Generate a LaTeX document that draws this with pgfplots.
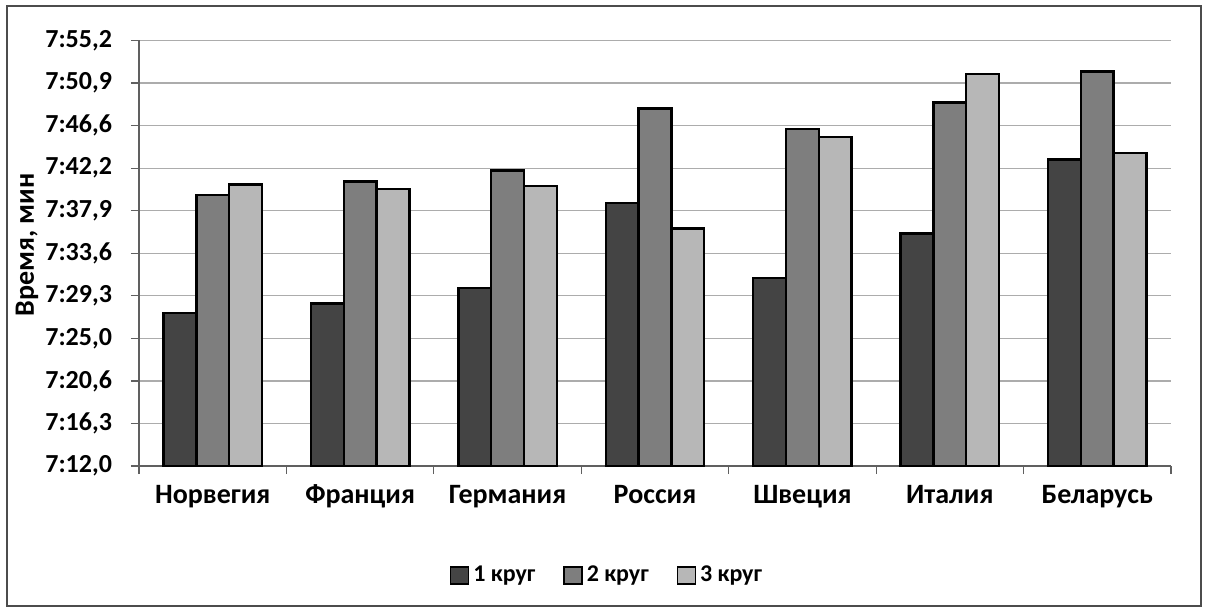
\documentclass[border=0pt]{standalone}
\usepackage{fontspec}
\setmainfont{Carlito}
\usepackage{pgfplots}
\pgfplotsset{compat=1.18}
\definecolor{c1}{HTML}{444444}
\definecolor{c2}{HTML}{7E7E7E}
\definecolor{c3}{HTML}{B7B7B7}
\newcommand{\lbl}{\fontsize{12}{14.4}\selectfont\bfseries}
\newcommand{\ylbl}{\fontsize{13}{15.6}\selectfont\bfseries}
\newcommand{\xlbl}{\fontsize{14}{16.8}\selectfont\bfseries}
\pgfplotstableread{
x r1 r2 r3
0 27.55 39.5 40.6
1 28.5 40.9 40.1
2 30.1 42.0 40.4
3 38.7 48.3 36.1
4 31.1 46.2 45.4
5 35.6 48.9 51.8
6 43.1 52.05 43.8
}\datatab
\begin{document}
\begin{tikzpicture}[x=1pt,y=1pt]
\path[use as bounding box] (0,0) rectangle (602.5,305.5);
\draw[gray!60!black, line width=0.6pt] (3.5,2.5) rectangle (600.5,302.5);
\begin{axis}[
  at={(69.5pt,72.5pt)}, anchor=south west,
  scale only axis, width=516pt, height=212.75pt,
  ybar=0pt, bar width=16.4pt,
  xmin=-0.5, xmax=6.5, ymin=12, ymax=55.2,
  xtick={-0.5,0.5,1.5,2.5,3.5,4.5,5.5,6.5},
  x tick label as interval,
  xticklabels={Норвегия,Франция,Германия,Россия,Швеция,Италия,Беларусь},
  ytick={12,16.32,20.64,24.96,29.28,33.6,37.92,42.24,46.56,50.88,55.2},
  yticklabels={{7:12,0},{7:16,3},{7:20,6},{7:25,0},{7:29,3},{7:33,6},{7:37,9},{7:42,2},{7:46,6},{7:50,9},{7:55,2}},
  axis lines=left, axis line style={-, gray!75!black, line width=0.6pt},
  ymajorgrids, grid style={gray!65, line width=0.6pt},
  tick style={gray!75!black, line width=0.6pt}, tick align=outside, major tick length=4pt,
  yticklabel style={font=\ylbl, xshift=-6pt},
  xticklabel style={font=\xlbl, anchor=base, yshift=-14.5pt},
  ylabel={Время, мин},
  ylabel style={font=\xlbl, at={(axis description cs:-0.1085,0.52)}, anchor=center, rotate=0},
  legend columns=3,
  legend style={at={(axis description cs:0.4545,-0.256)}, anchor=center, draw=none, fill=none, font=\lbl,
    /tikz/every even column/.append style={column sep=12pt}},
]
\addplot[fill=c1, draw=black, line width=1.2pt, legend image code/.code={\draw[fill=c1,draw=black,line width=0.7pt] (0pt,-4.5pt) rectangle (9pt,4pt);}] table[x=x,y=r1]{\datatab};
\addplot[fill=c2, draw=black, line width=1.2pt, legend image code/.code={\draw[fill=c2,draw=black,line width=0.7pt] (0pt,-4.5pt) rectangle (9pt,4pt);}] table[x=x,y=r2]{\datatab};
\addplot[fill=c3, draw=black, line width=1.2pt, legend image code/.code={\draw[fill=c3,draw=black,line width=0.7pt] (0pt,-4.5pt) rectangle (9pt,4pt);}] table[x=x,y=r3]{\datatab};
\legend{1 круг, 2 круг, 3 круг}
\end{axis}
\end{tikzpicture}
\end{document}
